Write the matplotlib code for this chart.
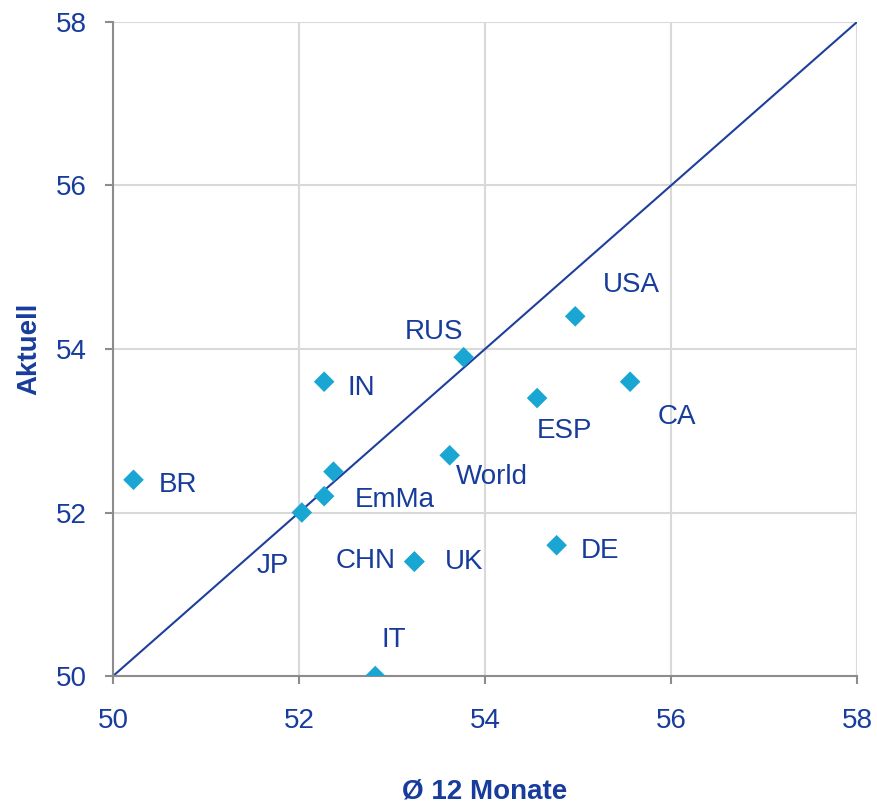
import matplotlib
matplotlib.use("Agg")
import matplotlib.pyplot as plt

plt.rcParams['font.family'] = ['Liberation Sans', 'DejaVu Sans']

# data: 12-month average vs current value
countries = ['USA', 'CA', 'ESP', 'RUS', 'World', 'IN', '', 'EmMa', 'BR', 'JP', 'CHN', 'UK', 'DE', 'IT']
avg12 = [54.97, 55.56, 54.56, 53.77, 53.62, 52.27, 52.37, 52.27, 50.22, 52.03, 53.24, 53.24, 54.77, 52.82]
current = [54.4, 53.6, 53.4, 53.9, 52.7, 53.6, 52.5, 52.2, 52.4, 52.0, 51.4, 51.4, 51.6, 50.0]
ticks = [50, 52, 54, 56, 58]

# label offsets in pixels (x right, y up)
offsets = [(56, 31), (47, -35), (27, -33), (-30, 25), (42, -22), (37, -6), (0, 0),
           (71, -4), (44, -5), (-29, -53), (-49, 1), (50, 0), (43, -6), (19, 36)]

txt = '#173c9c'
mk = '#1aa6d2'
grid = '#d9d9d9'

fig = plt.figure(figsize=(8.77, 8.05), dpi=100)
ax = fig.add_axes([0.1289, 0.1602, 0.8483, 0.8125])

ax.plot([ticks[0], ticks[-1]], [ticks[0], ticks[-1]], color='#1f3f9c', lw=1.5, zorder=2)
ax.scatter(avg12, current, marker='D', s=110, color=mk, edgecolors='none', zorder=3)

for name, x, y, off in zip(countries, avg12, current, offsets):
    if name:
        ax.annotate(name, (x, y), xytext=off, textcoords='offset pixels',
                    ha='center', va='center', fontsize=20, color=txt)

ax.set_xlim(ticks[0], ticks[-1])
ax.set_ylim(ticks[0], ticks[-1])
ax.set_xticks(ticks)
ax.set_yticks(ticks)
ax.grid(True, color=grid, lw=1.5, zorder=0)
ax.set_axisbelow(True)
for s in ['top', 'right']:
    ax.spines[s].set_visible(False)
for s in ['left', 'bottom']:
    ax.spines[s].set_color('#8c8c8c')
    ax.spines[s].set_linewidth(1.5)
ax.tick_params(direction='out', length=6, width=1.5, color='#8c8c8c',
               labelsize=20, labelcolor=txt, pad=13)
ax.tick_params(axis='x', pad=17)

ax.set_xlabel('Ø 12 Monate', fontsize=20, fontweight='bold', color=txt)
ax.set_ylabel('Aktuell', fontsize=20, fontweight='bold', color=txt)
ax.xaxis.set_label_coords(0.5, -0.157)
ax.yaxis.set_label_coords(-0.095, 0.5)

fig.savefig('out.png', dpi=100)
